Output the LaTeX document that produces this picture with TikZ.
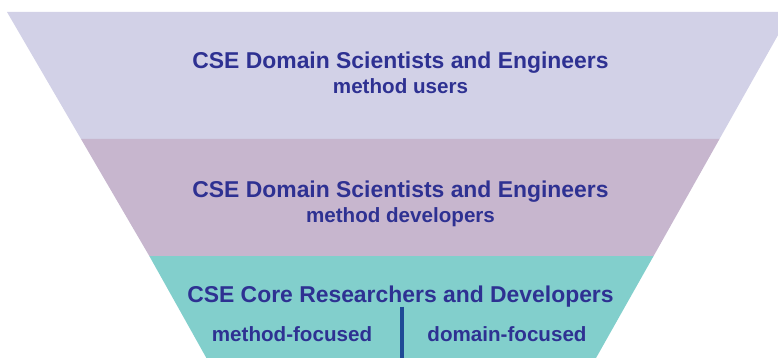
\documentclass[tikz,border=0pt]{standalone}
\usepackage{fontspec}
\setmainfont{Liberation Sans}
\definecolor{bandA}{HTML}{D2D1E7}
\definecolor{bandB}{HTML}{C7B6CE}
\definecolor{bandC}{HTML}{82CFCC}
\definecolor{txt}{HTML}{2E3192}
\definecolor{divline}{HTML}{1F4A96}
\tikzset{
  band/.style={draw=none},
  titletext/.style={anchor=base, text=txt, inner sep=0pt, font=\bfseries\fontsize{22.9}{27}\selectfont},
  subtext/.style={anchor=base, text=txt, inner sep=0pt, font=\bfseries\fontsize{20.6}{24}\selectfont},
  divider/.style={draw=divline, line width=3.4pt}
}
\begin{document}
\begin{tikzpicture}[x=1pt,y=-1pt]
\useasboundingbox (0,0) rectangle (778,358);
\clip (0,0) rectangle (778,358);
% funnel bands
\fill[band, bandA] (7,12) -- (791,12) -- (719.5,139) -- (81,139) -- cycle;
\fill[band, bandB] (81,139) -- (719.5,139) -- (653.6,256) -- (149.3,256) -- cycle;
\fill[band, bandC] (149.3,256) -- (653.6,256) -- (594.9,360) -- (207.5,360) -- cycle;
% texts
\node[titletext] (t1) at (400.5,68.3) {CSE Domain Scientists and Engineers};
\node[subtext]   (s1) at (400.5,93.3) {method users};
\node[titletext] (t2) at (400.5,197.8) {CSE Domain Scientists and Engineers};
\node[subtext]   (s2) at (400.5,222.7) {method developers};
\node[titletext] (t3) at (400.5,302.3) {CSE Core Researchers and Developers};
\node[subtext]   (s3a) at (292,341) {method-focused};
\node[subtext]   (s3b) at (507,341) {domain-focused};
% divider
\coordinate (dtop) at (402,306.7);
\coordinate (dbot) at (402,362);
\draw[divider] (dtop) -- (dbot);
\end{tikzpicture}
\end{document}
